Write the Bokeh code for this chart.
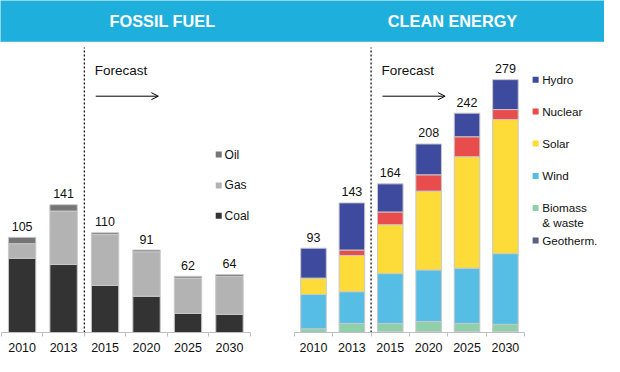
from bokeh.plotting import figure
from bokeh.models import Range1d, FixedTicker, BoxAnnotation, Label, Arrow, OpenHead, ColumnDataSource
from bokeh.layouts import row, column
from bokeh.embed import file_html
from bokeh.resources import INLINE
from bokeh.core.properties import value

# ---------------- data ----------------
years = ["2010", "2013", "2015", "2020", "2025", "2030"]

fossil_keys = ["coal", "gas", "oil"]
fossil_names = ["Coal", "Gas", "Oil"]
coal = [82, 75, 52, 40, 21, 20]
gas = [16, 59, 56, 49, 39, 42]
oil = [7, 7, 2, 2, 2, 2]
fossil_totals = [105, 141, 110, 91, 62, 64]

clean_keys = ["geotherm", "biomass", "wind", "solar", "nuclear", "hydro"]
clean_names = ["Geotherm.", "Biomass\n& waste", "Wind", "Solar", "Nuclear", "Hydro"]
geotherm = [0, 0, 1, 1, 1, 1]
biomass = [4, 10, 9, 11, 9, 8]
wind = [38, 35, 55, 57, 61, 78]
solar = [18, 40, 54, 87, 123, 148]
nuclear = [0, 6, 14, 18, 22, 11]
hydro = [33, 52, 31, 34, 26, 33]
clean_totals = [93, 143, 164, 208, 242, 279]

fossil_colors = ["#333333", "#B3B3B3", "#757575"]
clean_colors = ["#5B5F80", "#8FD0AB", "#56BDE4", "#FDDB38", "#E94C4C", "#3E4A9E"]

# ---------------- layout helpers ----------------
W, H = 604, 356
KX, KY = W / 620, H / 372
HH = 42                      # header strip height
W1 = 283
W2 = W - W1
CH = H - HH                  # chart figure height
BOTTOM = 24
FRAME_H = CH - BOTTOM
UY = 0.947 * KY
YMAX = FRAME_H / UY
UXL = 42.57 * KX
XL0 = 0.5 - 0.9 * KX / UXL
XL1 = XL0 + W1 / UXL
UXR = 39.4 * KX
XR0 = 0.5 - (301.6 * KX - W1) / UXR
XR1 = XR0 + W2 / UXR

BLUE = "#1FAFDC"
FONT = "Liberation Sans"
TXT = "#111111"


def lx(r):
    return XL0 + r * KX / UXL


def rx(r):
    return XR0 + (r * KX - W1) / UXR


def yd(r):
    return (FRAME_H - (r * KY - HH)) / UY


pos = list(range(1, len(years) + 1))
forecast_x = years.index("2015") + 0.5

# ---------------- header strip ----------------
hdr = figure(width=W, height=HH, x_range=Range1d(0, W), y_range=Range1d(0, HH),
             output_backend="svg", toolbar_location=None, min_border=0,
             x_axis_location=None, y_axis_location=None)
hdr.outline_line_color = None
hdr.grid.visible = False
hdr.background_fill_color = BLUE
hdr.border_fill_color = BLUE
hdr.add_layout(BoxAnnotation(left=-5, right=W + 5, bottom=-1, top=1.2,
                             fill_color="#5CC8EA", fill_alpha=1, line_color=None))
for title, cx in (("FOSSIL FUEL", 166.3), ("CLEAN ENERGY", 464)):
    hdr.add_layout(Label(x=cx * KX, y=HH - 21.5 * KY, text=title, text_align="center",
                         text_baseline="middle", text_font=FONT, text_font_style="bold",
                         text_font_size="16.3px", text_color="white"))


def make_fig(width, xr, fx):
    p = figure(width=width, height=CH, x_range=Range1d(*xr), y_range=Range1d(0, YMAX),
               output_backend="svg", toolbar_location=None, min_border=0,
               min_border_bottom=BOTTOM, y_axis_location=None)
    p.outline_line_color = None
    p.xgrid.visible = False
    p.ygrid.visible = False
    ax = p.xaxis[0]
    ax.ticker = FixedTicker(ticks=pos, minor_ticks=[i + 0.5 for i in range(len(years) + 1)])
    ax.major_label_overrides = {i: y for i, y in zip(pos, years)}
    ax.bounds = (0.5, len(years) + 0.5)
    ax.axis_line_color = "#BFBFBF"
    ax.major_tick_line_color = None
    ax.major_tick_in = 0
    ax.major_tick_out = 0
    ax.minor_tick_line_color = "#BFBFBF"
    ax.minor_tick_in = 0
    ax.minor_tick_out = 4
    ax.major_label_standoff = 6
    ax.major_label_text_font = FONT
    ax.major_label_text_font_size = "12.5px"
    ax.major_label_text_color = TXT

    # forecast divider, label and arrow
    p.segment(x0=[forecast_x], y0=[0], x1=[forecast_x], y1=[yd(49)],
              line_dash="2 2", line_color="#000000", line_width=1.2)
    p.add_layout(Label(x=forecast_x + (fx(96.7) - fx(86)), y=yd(73.5), text="Forecast",
                       text_align="left", text_baseline="middle", text_font=FONT,
                       text_font_size="13.5px", text_color=TXT))
    p.add_layout(Arrow(end=OpenHead(size=7, line_width=1, line_color="black"),
                       x_start=forecast_x + (fx(97.7) - fx(86)), y_start=yd(100),
                       x_end=forecast_x + (fx(162) - fx(86)), y_end=yd(100),
                       line_width=1, line_color="black"))
    return p


# ---------------- fossil ----------------
p1 = make_fig(W1, (XL0, XL1), lx)
src1 = ColumnDataSource(dict(x=pos, coal=coal, gas=gas, oil=oil))
p1.vbar_stack(fossil_keys, x="x", width=0.66, fill_color=fossil_colors,
              line_color="#C8C8C8", line_width=1, source=src1)
p1.text(x=pos, y=fossil_totals, text=[str(t) for t in fossil_totals], text_align="center",
        text_baseline="alphabetic", y_offset=-11, text_font=value(FONT),
        text_font_size="12.5px", text_color=TXT)
leg1_y = [161, 193.3, 225]
p1.scatter(x=[lx(224)] * 3, y=[yd(v) for v in leg1_y], marker="square", size=6,
           fill_color=fossil_colors[::-1], line_color=None)
p1.text(x=[lx(230)] * 3, y=[yd(v) for v in leg1_y], text=fossil_names[::-1],
        text_align="left", text_baseline="middle", text_font=value(FONT),
        text_font_size="12px", text_color=TXT)

# ---------------- clean ----------------
p2 = make_fig(W2, (XR0, XR1), rx)
src2 = ColumnDataSource(dict(x=pos, geotherm=geotherm, biomass=biomass, wind=wind,
                             solar=solar, nuclear=nuclear, hydro=hydro))
p2.vbar_stack(clean_keys, x="x", width=0.667, fill_color=clean_colors,
              line_color="#C8C8C8", line_width=1, source=src2)
p2.text(x=pos, y=clean_totals, text=[str(t) for t in clean_totals], text_align="center",
        text_baseline="alphabetic", y_offset=-11, text_font=value(FONT),
        text_font_size="12.5px", text_color=TXT)
leg2_sq = [82.7, 116, 149.3, 183.3, 216.7, 250.7]
leg2_tx = [82.7, 116, 149.3, 183.3, 224.2, 250.7]
p2.scatter(x=[rx(549.3)] * 6, y=[yd(v) for v in leg2_sq], marker="square", size=6,
           fill_color=clean_colors[::-1], line_color=None)
p2.text(x=[rx(556)] * 6, y=[yd(v) for v in leg2_tx], text=clean_names[::-1],
        text_align="left", text_baseline="middle", text_font=value(FONT),
        text_font_size="11.7px", text_color=TXT, text_line_height=1.15)

layout = column(hdr, row(p1, p2))
open("out.html", "w").write(file_html(layout, INLINE))
